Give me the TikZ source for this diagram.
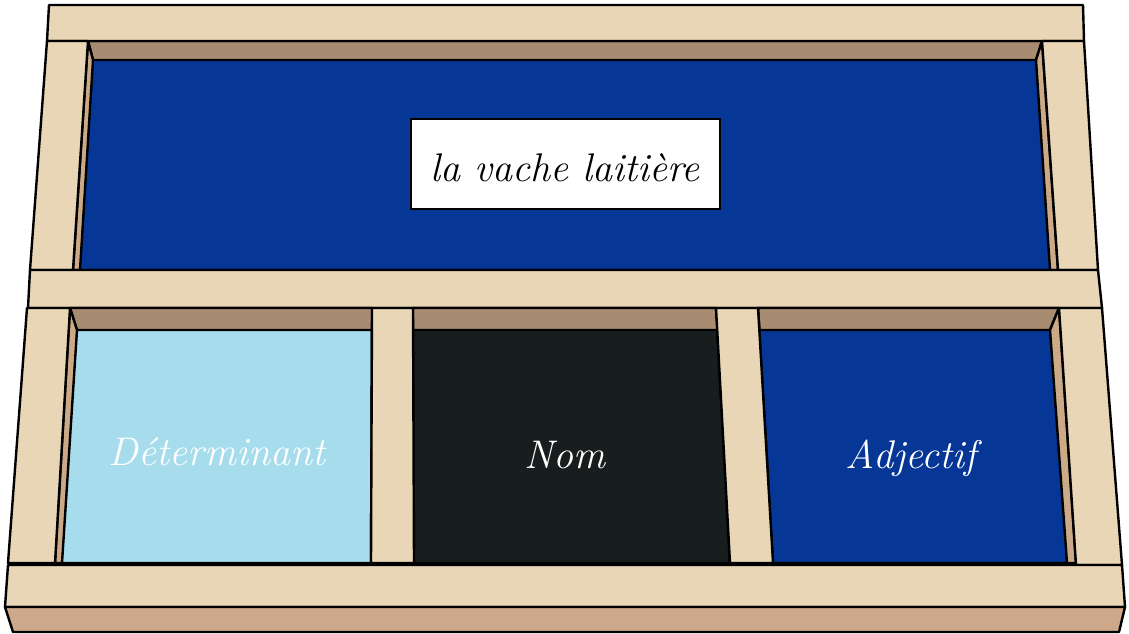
\documentclass[tikz,border=0pt]{standalone}
\usetikzlibrary{positioning}
\definecolor{woodlight}{RGB}{232,214,182}
\definecolor{wallbrown}{RGB}{168,140,114}
\definecolor{sidetan}{RGB}{205,170,135}
\definecolor{fronttan}{RGB}{205,168,138}
\definecolor{feltblue}{RGB}{6,54,150}
\definecolor{feltlight}{RGB}{166,220,236}
\definecolor{feltdark}{RGB}{24,30,30}
\tikzset{
  part/.style={draw=black,line width=2.4pt,line join=round},
  wood/.style={part,fill=woodlight},
  wall/.style={part,fill=wallbrown},
  side/.style={part,fill=sidetan},
  felt/.style={part,fill=#1},
  card/.style={draw=black,line width=2.4pt,fill=white,minimum width=309pt,minimum height=90pt,inner sep=0pt},
  word/.style={font=\fontsize{40}{40}\selectfont\itshape,text=#1}
}
\begin{document}
\begin{tikzpicture}[x=1pt,y=-1pt]
\fill[white] (0,0) rectangle (1129,633);
% top compartment
\draw[felt=feltblue] (88,41) -- (1042,41) -- (1058,270) -- (73,270) -- cycle;
\draw[wall] (88,41) -- (1042,41) -- (1036,60) -- (93,60) -- cycle;
\draw[side] (88,41) -- (93,60) -- (80,270) -- (73,270) -- cycle;
\draw[side] (1042,41) -- (1036,60) -- (1050,270) -- (1058,270) -- cycle;
% frame, upper part
\draw[wood] (49,5) -- (1083,5) -- (1084,41) -- (47,41) -- cycle;
\draw[wood] (47,41) -- (88,41) -- (73,270) -- (30,270) -- cycle;
\draw[wood] (1042,41) -- (1084,41) -- (1098,270) -- (1058,270) -- cycle;
\draw[wood] (30,270) -- (1098,270) -- (1102,308) -- (28,308) -- cycle;
% bottom compartments
\draw[felt=feltlight] (70,308) -- (372,308) -- (371,563) -- (55,563) -- cycle;
\draw[wall] (70,308) -- (372,308) -- (372,330) -- (77,330) -- cycle;
\draw[side] (70,308) -- (77,330) -- (62,563) -- (55,563) -- cycle;
\draw[felt=feltdark] (413,308) -- (716,308) -- (730,563) -- (414,563) -- cycle;
\draw[wall] (413,308) -- (716,308) -- (717.5,330) -- (413,330) -- cycle;
\draw[felt=feltblue] (758,308) -- (1059,308) -- (1076,563) -- (773,563) -- cycle;
\draw[wall] (758,308) -- (1059,308) -- (1050,330) -- (759.5,330) -- cycle;
\draw[side] (1059,308) -- (1050,330) -- (1067,563) -- (1076,563) -- cycle;
% frame, lower part
\draw[wood] (27,308) -- (70,308) -- (55,563) -- (8,563) -- cycle;
\draw[wood] (372,308) -- (413,308) -- (414,563) -- (371,563) -- cycle;
\draw[wood] (716,308) -- (758,308) -- (773,563) -- (730,563) -- cycle;
\draw[wood] (1059,308) -- (1102,308) -- (1122,565) -- (1076,565) -- cycle;
\draw[wood] (8,565) -- (1122,565) -- (1125,607) -- (5,607) -- cycle;
\draw[part,fill=fronttan] (5,607) -- (1125,607) -- (1119,632) -- (13,632) -- cycle;
% labels
\node[card] (phrase) at (565.5,164) {};
\node[word=black] (groupe) at (565,168) {la vache laitière};
\node[word=white] (determinant) at (217,452) {Déterminant};
\node[word=white] (nom) at (565,455) {Nom};
\node[word=white] (adjectif) at (911,458) {Adjectif};
\end{tikzpicture}
\end{document}
